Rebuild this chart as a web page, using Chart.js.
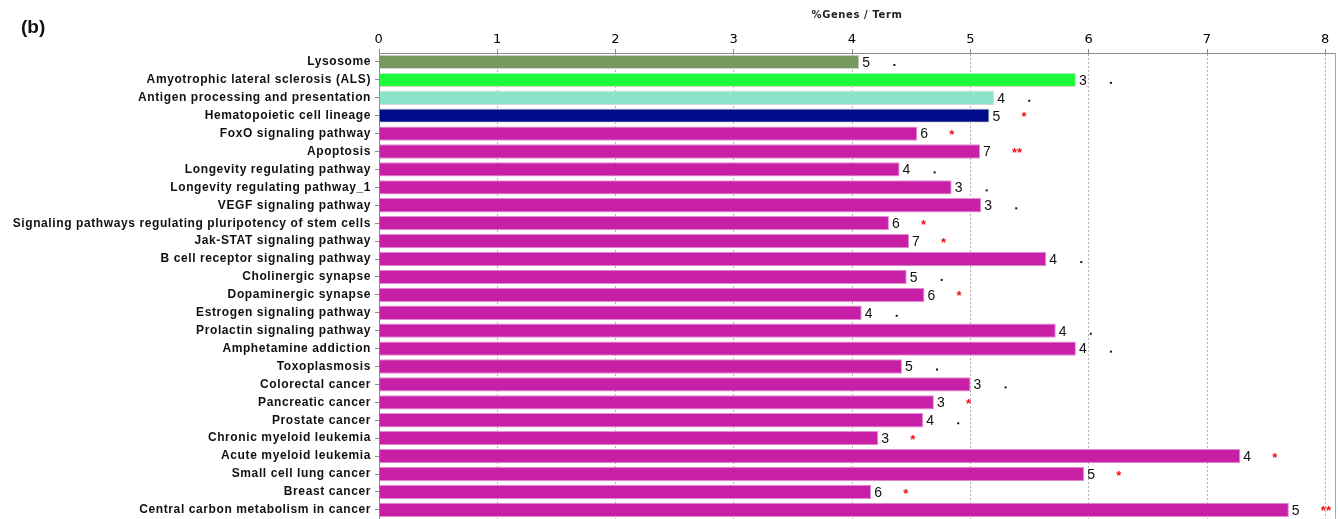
<!DOCTYPE html>
<html>
<head>
<meta charset="utf-8">
<script src="https://cdn.jsdelivr.net/npm/chart.js@4/dist/chart.umd.min.js"></script>
<style>
  html, body { margin: 0; padding: 0; background: #fff; overflow: hidden; }
  #wrap { position: relative; width: 1338px; height: 530px; }
</style>
</head>
<body>
<div id="wrap"><canvas id="myChart"></canvas></div>
<script>
var terms = [
  "Lysosome",
  "Amyotrophic lateral sclerosis (ALS)",
  "Antigen processing and presentation",
  "Hematopoietic cell lineage",
  "FoxO signaling pathway",
  "Apoptosis",
  "Longevity regulating pathway",
  "Longevity regulating pathway_1",
  "VEGF signaling pathway",
  "Signaling pathways regulating pluripotency of stem cells",
  "Jak-STAT signaling pathway",
  "B cell receptor signaling pathway",
  "Cholinergic synapse",
  "Dopaminergic synapse",
  "Estrogen signaling pathway",
  "Prolactin signaling pathway",
  "Amphetamine addiction",
  "Toxoplasmosis",
  "Colorectal cancer",
  "Pancreatic cancer",
  "Prostate cancer",
  "Chronic myeloid leukemia",
  "Acute myeloid leukemia",
  "Small cell lung cancer",
  "Breast cancer",
  "Central carbon metabolism in cancer"
];
var genesPerTerm = [4.06, 5.89, 5.2, 5.16, 4.55, 5.08, 4.4, 4.84, 5.09, 4.31, 4.48, 5.64, 4.46, 4.61,
  4.08, 5.72, 5.89, 4.42, 5.0, 4.69, 4.6, 4.22, 7.28, 5.96, 4.16, 7.69];
var geneCounts = [5, 3, 4, 5, 6, 7, 4, 3, 3, 6, 7, 4, 5, 6, 4, 4, 4, 5, 3, 3, 4, 3, 4, 5, 6, 5];
var significance = [".", ".", ".", "*", "*", "**", ".", ".", ".", "*", "*", ".", ".", "*", ".", ".", ".",
  ".", ".", "*", ".", "*", "*", "*", "*", "**"];
var xTicks = [0, 1, 2, 3, 4, 5, 6, 7, 8];
var xMax = 8.08;

// first four terms have their own group colour, the rest share magenta
var groupColors = ["#77985e", "#1cfb3c", "#8de3c9", "#000c8a"];
var otherColor = "#c71fa6";
var barColors = terms.map((_, i) => groupColors[i] || otherColor);
var edgeColors = terms.map((_, i) => (i < 4 ? "#d8d8d8" : "#e08fd2"));

// the term names in the original are spaced out a bit
var wideText = {
  id: "wideText",
  beforeDraw: function (chart) {
    chart.ctx.letterSpacing = "0.6px";
  }
};

var barLabels = {
  id: "barLabels",
  afterDatasetsDraw: function (chart) {
    var ctx = chart.ctx;
    var x = chart.scales.x;
    var area = chart.chartArea;
    var meta = chart.getDatasetMeta(0);
    ctx.save();
    ctx.letterSpacing = "0px";

    // right frame line
    ctx.strokeStyle = "#a8a8a8";
    ctx.lineWidth = 1;
    ctx.beginPath();
    ctx.moveTo(area.right + 0.5, area.top);
    ctx.lineTo(area.right + 0.5, area.bottom);
    ctx.stroke();

    ctx.textAlign = "left";
    ctx.textBaseline = "middle";
    meta.data.forEach(function (bar, i) {
      var end = x.getPixelForValue(genesPerTerm[i]);
      ctx.fillStyle = "#111";
      ctx.font = "14px 'Liberation Sans'";
      ctx.fillText(geneCounts[i], end + 3, bar.y + 1);
      var mx = end + 34;
      if (significance[i] == ".") {
        ctx.fillRect(mx, bar.y + 2, 2, 2);
      } else {
        ctx.fillStyle = "#ee1111";
        ctx.font = "bold 13px 'Liberation Sans'";
        ctx.fillText(significance[i], mx - 2, bar.y + 2);
      }
    });

    // panel letter
    ctx.fillStyle = "#111";
    ctx.font = "bold 19px 'Liberation Sans'";
    ctx.fillText("(b)", 21, 28);
    ctx.restore();
  }
};

var ctx = document.getElementById("myChart").getContext("2d");
var myChart = new Chart(ctx, {
  type: "bar",
  data: {
    labels: terms,
    datasets: [
      {
        label: "%Genes / Term",
        data: genesPerTerm,
        backgroundColor: barColors,
        borderColor: edgeColors,
        borderWidth: 1,
        categoryPercentage: 1,
        barPercentage: 0.8
      }
    ]
  },
  options: {
    indexAxis: "y",
    responsive: true,
    maintainAspectRatio: false,
    animation: false,
    layout: { padding: { left: 0, right: 3, top: 0, bottom: 9 } },
    plugins: {
      legend: { display: false },
      tooltip: { enabled: false }
    },
    scales: {
      x: {
        position: "top",
        min: 0,
        max: xMax,
        afterBuildTicks: function (scale) {
          scale.ticks = xTicks.map((v) => ({ value: v }));
        },
        afterFit: function (scale) {
          scale.height = 53;
        },
        border: { display: true, color: "#8c8c8c", dash: [2, 2] },
        grid: {
          color: "#b0b0b0",
          tickLength: 4,
          tickColor: "#8c8c8c",
          tickBorderDash: []
        },
        ticks: {
          padding: 2,
          color: "#000",
          font: { family: "'DejaVu Sans'", size: 13 }
        },
        title: {
          display: true,
          text: "%Genes / Term",
          color: "#222",
          font: { family: "'DejaVu Sans'", size: 10, weight: "bold" },
          padding: { top: 9, bottom: 0 }
        }
      },
      y: {
        afterFit: function (scale) {
          scale.width = 379;
        },
        border: { display: true, color: "#8c8c8c" },
        grid: {
          offset: false,
          drawOnChartArea: false,
          tickLength: 4,
          color: "#8c8c8c"
        },
        ticks: {
          padding: 4,
          autoSkip: false,
          color: "#111",
          font: { family: "'Liberation Sans'", size: 12, weight: "bold" }
        }
      }
    }
  },
  plugins: [wideText, barLabels]
});
</script>
</body>
</html>
